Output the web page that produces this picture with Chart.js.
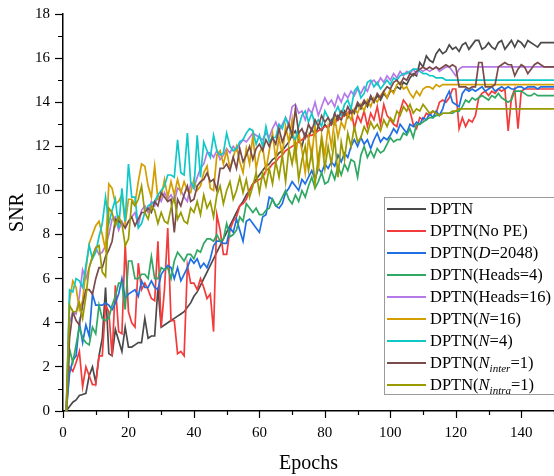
<!DOCTYPE html>
<html>
<head>
<meta charset="utf-8">
<script src="https://cdn.jsdelivr.net/npm/chart.js@4.4.1/dist/chart.umd.min.js"></script>
<style>
  html, body { margin: 0; padding: 0; background: #fff; }
  #wrap { position: relative; width: 554px; height: 476px; overflow: hidden; }
  #legend {
    position: absolute; left: 384px; top: 197px; width: 180px; height: 196px;
    border: 1px solid #9a9a9a; background: #fff;
    font-family: "Liberation Serif", "Times New Roman", serif; font-size: 16.5px; color: #000;
  }
  .item { position: absolute; left: 0; height: 22px; line-height: 22px; white-space: nowrap; }
  .swatch { position: absolute; left: 2px; top: 10px; width: 39px; height: 2px; }
  .lbl { position: absolute; left: 45px; top: 0; }
  .lbl sub { font-size: 11px; vertical-align: -4px; line-height: 0; }
</style>
</head>
<body>
<div id="wrap">
  <canvas id="myChart" width="554" height="476"></canvas>
  <div id="legend"></div>
</div>
<script>
// SNR per epoch (epochs 1..150)
var dptn = [
  0, 0.2, 0.4, 0.5, 0.7, 0.75, 0.8, 1.6, 2.0, 1.3,
  2.5, 3.3, 5.6, 2.6, 2.5, 3.7, 3.2, 2.7, 3.8, 2.9,
  2.9, 3.0, 3.1, 3.1, 4.2, 3.3, 3.4, 3.4, 5.6, 3.8,
  3.9, 4.0, 4.1, 4.2, 4.3, 4.4, 4.5, 4.7, 4.9, 5.2,
  5.4, 5.7, 6.0, 6.3, 6.6, 6.9, 7.2, 7.5, 7.8, 8.1,
  8.4, 8.7, 9.0, 9.3, 9.5, 9.8, 10.0, 10.3, 10.5, 10.7,
  10.9, 11.1, 11.2, 11.4, 11.5, 11.7, 11.8, 12.0, 12.2, 12.5,
  12.7, 12.3, 12.0, 12.6, 12.4, 12.8, 12.5, 12.9, 12.7, 13.0,
  12.8, 13.2, 13.0, 13.4, 13.2, 13.6, 13.3, 13.7, 13.5, 13.9,
  13.7, 14.0, 13.8, 14.2, 14.0, 14.3, 14.1, 14.4, 14.2, 14.5,
  14.5, 14.7, 14.6, 14.9, 14.8, 15.1, 15.3, 15.2, 15.8, 15.6,
  16.1, 15.9, 15.8, 16.2, 16.4, 16.2, 16.3, 16.6, 16.4, 16.5,
  16.3, 16.6, 16.7, 16.4, 16.6, 16.8, 16.8, 16.4, 16.5, 16.7,
  16.5, 16.4, 16.7, 16.8, 16.4, 16.6, 16.8, 16.5, 16.8, 16.7,
  16.5, 16.8, 16.7, 16.6, 16.5, 16.7, 16.7, 16.7, 16.7, 16.7
];
var noPE = [
  0, 2.0, 1.8, 2.2, 2.7, 1.1, 2.0, 1.6, 1.2, 1.2,
  2.5, 2.5, 4.8, 4.5, 2.5, 5.7, 3.6, 3.5, 7.6, 4.5,
  4.0, 3.8, 6.7, 5.5, 5.8, 5.5, 5.1, 5.0, 7.7, 3.8,
  5.5, 8.3, 4.1, 4.1, 2.6, 2.7, 2.5, 6.6, 5.8, 5.8,
  5.5, 6.0, 5.6, 5.1, 5.3, 3.6, 8.9, 8.2, 7.1, 7.1,
  8.2, 8.6, 8.8, 9.3, 9.4, 9.6, 10.0, 10.3, 10.4, 10.5,
  10.6, 10.9, 11.0, 11.2, 11.3, 11.5, 11.6, 11.8, 11.9, 12.0,
  12.1, 12.2, 12.3, 12.4, 12.5, 12.5, 12.6, 12.7, 12.8, 12.9,
  12.9, 13.0, 13.1, 13.2, 13.3, 13.4, 13.5, 13.7, 12.8, 13.4,
  13.1, 13.6, 12.9, 13.5, 13.2, 13.8, 13.0, 13.9, 13.4, 13.2,
  13.0, 12.9, 13.6, 14.1, 13.9, 13.6, 13.0, 12.8, 13.3, 13.2,
  13.5, 13.4, 13.6, 13.5, 14.0, 14.1, 14.0, 14.2, 14.6, 14.6,
  12.8, 13.3, 12.9, 13.2, 13.1, 13.4, 14.2, 14.4, 14.5, 14.3,
  14.5, 14.4, 14.6, 14.5, 14.6, 12.7, 14.2, 14.6, 12.8, 14.5,
  14.6, 14.6, 14.6, 14.6, 14.6, 14.6, 14.6, 14.6, 14.6, 14.6
];
var d2048 = [
  0, 1.7, 2.3, 2.5, 4.0, 3.1, 3.9, 3.4, 5.3, 4.8,
  4.8, 4.8, 4.9, 4.8, 4.6, 4.9, 5.3, 6.0, 5.1, 5.3,
  5.4, 5.5, 5.2, 5.9, 5.6, 5.6, 5.9, 5.6, 5.5, 6.2,
  6.4, 6.6, 6.5, 6.0, 6.5, 5.9, 6.2, 6.5, 6.9, 6.7,
  6.9, 6.5, 6.7, 6.5, 6.9, 7.5, 7.7, 7.7, 7.6, 7.6,
  8.3, 8.1, 8.7, 8.2, 7.7, 8.6, 8.7, 8.5, 8.3, 8.1,
  8.8, 8.9, 9.7, 9.6, 9.3, 9.2, 9.4, 9.9, 10.1, 10.4,
  10.2, 10.0, 10.5, 10.3, 10.6, 10.9, 10.5, 11.0, 10.8, 11.2,
  11.0, 11.3, 11.1, 11.6, 11.3, 11.7, 11.5, 12.0, 12.3, 12.0,
  12.4, 12.1, 12.3, 11.9, 12.3, 12.6, 12.2, 12.4, 12.3, 12.5,
  12.8, 12.6, 13.0, 12.8, 12.6, 13.0, 12.9, 13.1, 13.0, 13.3,
  13.2, 13.5, 13.3, 13.6, 13.4, 13.7, 14.2, 14.5, 14.0, 13.9,
  13.8, 14.4, 14.6, 14.5, 14.6, 14.5, 14.6, 14.7, 14.5, 14.6,
  14.7, 14.5, 14.6, 14.7, 14.6, 14.7, 14.6, 14.6, 14.7, 14.7,
  14.6, 14.7, 14.7, 14.7, 14.6, 14.7, 14.7, 14.7, 14.7, 14.7
];
var heads4 = [
  0, 2.8, 2.2, 3.0, 3.8, 3.3, 3.1, 3.0, 3.8, 3.5,
  4.8, 4.2, 4.1, 4.2, 4.8, 5.2, 5.8, 5.8, 4.6, 6.8,
  6.8, 6.0, 6.0, 6.2, 6.2, 6.0, 7.0, 6.0, 6.0, 6.5,
  6.4, 6.5, 6.0, 6.8, 7.2, 7.0, 6.8, 7.1, 7.1, 6.9,
  7.3, 7.2, 7.6, 7.8, 7.8, 7.7, 8.0, 7.7, 7.8, 8.5,
  7.9, 8.0, 8.2, 8.8, 8.6, 9.4, 9.2, 9.0, 9.2, 8.9,
  8.9, 9.1, 9.2, 9.6, 9.3, 9.4, 9.7, 10.0, 9.6, 9.4,
  9.8, 9.5, 10.0, 9.7, 10.2, 10.6, 10.1, 10.4, 10.8, 10.3,
  10.4, 10.9, 10.5, 11.1, 10.7, 11.2, 10.9, 11.4, 11.3, 10.6,
  11.6, 12.0, 11.5, 11.8, 11.5, 11.9, 11.7, 11.8, 12.1, 12.4,
  12.2, 12.3, 12.3, 12.6, 12.5, 12.8, 12.4, 13.0, 13.0, 13.1,
  13.2, 13.3, 13.3, 13.4, 13.4, 13.5, 13.5, 13.5, 13.5, 13.6,
  13.6, 13.8, 14.1, 14.0, 14.2, 14.1, 14.2, 14.3, 14.2, 14.1,
  14.3, 14.2, 14.4, 14.2, 14.1, 14.0, 14.1, 14.5, 14.5, 14.5,
  14.4, 14.3, 14.3, 14.4, 14.3, 14.3, 14.3, 14.3, 14.3, 14.3
];
var heads16 = [
  0, 4.0, 4.5, 4.4, 5.2, 6.4, 6.0, 6.5, 7.0, 7.4,
  7.1, 7.2, 7.5, 8.0, 8.7, 8.8, 8.2, 8.6, 8.3, 8.6,
  8.8, 9.0, 8.4, 9.1, 9.3, 9.0, 9.5, 9.3, 9.8, 9.5,
  9.9, 9.6, 9.8, 9.5, 10.1, 10.0, 9.7, 9.5, 10.3, 10.1,
  10.6, 11.0, 11.2, 11.7, 11.7, 11.5, 11.8, 11.4, 11.6, 11.9,
  11.7, 12.0, 11.8, 12.1, 12.3, 12.2, 12.4, 12.6, 12.5, 12.4,
  12.3, 12.6, 12.4, 12.8, 13.1, 12.7, 13.0, 13.3, 13.0, 13.8,
  13.9, 13.5, 13.6, 13.2, 13.7, 13.5, 14.0, 13.4, 13.8, 14.2,
  13.9, 14.1, 13.8, 14.3, 14.0, 14.4, 14.2, 14.5, 14.3, 14.6,
  14.4, 14.7, 14.5, 14.9, 15.0, 14.8, 15.1, 14.9, 15.2, 15.0,
  15.3, 15.1, 15.4, 15.2, 15.4, 15.3, 15.5, 15.3, 15.5, 15.4,
  15.5, 15.4, 15.5, 15.6, 15.4, 15.5, 15.6, 15.6, 15.4, 15.2,
  15.5, 15.6, 15.6, 15.6, 15.6, 15.6, 15.6, 15.6, 15.6, 15.6,
  15.6, 15.6, 15.6, 15.6, 15.6, 15.6, 15.6, 15.6, 15.6, 15.6,
  15.6, 15.6, 15.6, 15.6, 15.6, 15.6, 15.6, 15.6, 15.6, 15.6
];
var n16 = [
  0, 5.0, 5.9, 5.6, 4.6, 5.0, 6.4, 7.6, 8.0, 8.4,
  8.6, 8.0, 7.3, 10.3, 10.1, 9.4, 9.5, 9.8, 8.5, 9.6,
  9.6, 9.4, 10.4, 11.2, 11.1, 10.2, 9.7, 11.1, 9.6, 9.7,
  10.5, 9.7, 10.4, 9.8, 10.5, 9.9, 10.4, 10.0, 9.9, 10.5,
  10.0, 10.2, 10.8, 11.1, 10.1, 10.0, 11.6, 11.8, 11.2, 11.8,
  11.0, 11.5, 12.0, 11.3, 10.8, 11.9, 11.2, 12.5, 11.0, 11.7,
  12.0, 10.9, 11.8, 12.6, 11.4, 12.4, 11.6, 12.9, 12.2, 13.2,
  11.5, 12.6, 11.8, 10.8, 12.4, 11.5, 13.0, 10.9, 12.5, 11.6,
  12.9, 12.0, 13.3, 12.4, 13.1, 12.8, 13.5, 13.2, 13.7, 13.5,
  13.9, 13.6, 14.1, 13.8, 14.2, 14.0, 14.3, 14.5, 14.2, 14.6,
  14.4, 14.8, 14.9, 14.6, 14.7, 14.4, 14.2, 14.5, 14.3, 14.6,
  14.7, 14.7, 14.6, 14.8, 14.7, 14.8, 14.8, 14.8, 14.8, 14.8,
  14.8, 14.8, 14.8, 14.8, 14.8, 14.8, 14.8, 14.8, 14.8, 14.8,
  14.8, 14.8, 14.8, 14.8, 14.8, 14.8, 14.8, 14.8, 14.8, 14.8,
  14.8, 14.8, 14.8, 14.8, 14.8, 14.8, 14.8, 14.8, 14.8, 14.8
];
var n4 = [
  0, 5.5, 5.4, 6.0, 5.9, 5.6, 6.6, 7.5, 6.9, 7.2,
  7.9, 8.5, 9.7, 8.5, 9.1, 9.6, 8.3, 10.1, 8.6, 11.2,
  9.7, 9.7, 8.3, 8.5, 9.0, 9.3, 9.4, 9.5, 9.8, 10.0,
  10.2, 10.7, 10.7, 10.6, 12.3, 10.8, 10.7, 12.6, 10.4, 10.1,
  12.5, 10.6, 12.2, 11.8, 11.5, 12.5, 11.8, 11.6, 11.7, 12.6,
  12.0, 11.8, 11.9, 12.2, 12.3, 12.6, 12.8, 12.7, 12.1, 12.5,
  12.0, 12.9, 12.2, 12.4, 12.4, 13.0, 12.8, 13.3, 12.9, 12.5,
  12.3, 12.9, 13.4, 13.6, 13.1, 13.5, 13.0, 13.2, 12.9, 13.6,
  13.3, 13.0, 13.5, 13.8, 13.4, 13.9, 14.1, 13.7, 14.5, 14.7,
  14.2, 14.4, 14.9, 15.0, 14.7, 14.9, 14.6, 14.8, 15.0, 14.8,
  15.1, 15.0, 15.2, 15.3, 15.3, 15.4, 15.5, 15.5, 15.4, 15.3,
  15.3, 15.2, 15.2, 15.1, 15.1, 15.1, 15.0, 15.0, 15.0, 15.0,
  15.0, 15.0, 15.0, 15.0, 15.0, 15.0, 15.0, 15.0, 15.0, 15.0,
  15.0, 15.0, 15.0, 15.0, 15.0, 15.0, 15.0, 15.0, 15.0, 15.0,
  15.0, 15.0, 15.0, 15.0, 15.0, 15.0, 15.0, 15.0, 15.0, 15.0
];
var nInter = [
  0, 3.3, 4.5, 4.1, 3.9, 4.8, 5.5, 5.5, 5.3, 6.0,
  6.5, 6.5, 7.0, 7.3, 7.7, 8.7, 8.6, 8.5, 8.3, 8.6,
  8.8, 8.4, 8.7, 9.0, 9.0, 9.2, 9.0, 9.5, 9.3, 9.9,
  9.7, 9.5, 9.6, 8.1, 9.6, 9.3, 9.8, 10.2, 9.5, 9.6,
  10.2, 10.4, 10.5, 10.8, 10.4, 10.5, 10.0, 11.0, 11.0, 11.2,
  10.9, 11.5, 11.0, 11.9, 11.3, 11.6, 12.0, 11.4, 11.9, 12.1,
  11.8, 12.3, 12.0, 12.4, 12.1, 12.8, 12.2, 12.6, 13.0, 12.5,
  13.7, 12.6, 12.8, 12.4, 13.0, 12.7, 13.2, 12.9, 13.4, 13.1,
  13.3, 13.0, 13.5, 13.2, 13.6, 13.4, 13.8, 13.5, 13.6, 14.0,
  13.8, 14.1, 13.9, 14.3, 14.0, 14.4, 14.2, 14.5, 14.7, 14.6,
  14.9, 15.0, 14.8, 15.1, 15.0, 15.3, 15.2, 15.4, 15.5, 15.6,
  15.5, 15.6, 15.5, 15.6, 15.5, 15.6, 15.7, 15.6, 15.7, 15.6,
  14.7, 14.7, 14.7, 14.6, 14.7, 14.7, 15.8, 15.8, 14.7, 14.7,
  14.7, 14.8, 15.6, 15.7, 15.8, 15.7, 15.7, 15.2, 15.5, 15.7,
  15.6, 15.3, 15.5, 15.7, 15.8, 15.7, 15.6, 15.6, 15.6, 15.6
];
var nIntra = [
  0, 4.8, 4.5, 4.5, 4.9, 4.2, 5.2, 6.5, 7.0, 7.4,
  7.5, 6.3, 6.1, 9.2, 9.0, 8.4, 8.8, 8.5, 7.5, 7.8,
  9.5, 9.3, 9.6, 10.2, 9.0, 8.7, 9.3, 9.1, 8.5, 9.0,
  8.6, 8.5, 9.2, 9.7, 8.7, 9.0, 8.6, 8.5, 9.2, 9.0,
  9.5, 8.9, 9.8, 9.2, 9.5, 8.8, 9.8, 10.2, 9.4, 10.0,
  10.4, 9.6, 10.0, 10.6, 9.9, 10.5, 9.7, 10.2, 10.8, 9.9,
  10.8, 10.2, 11.0, 10.3, 11.3, 10.6, 11.6, 10.4, 11.9, 11.2,
  12.1, 10.5, 11.4, 12.0, 10.9, 11.8, 10.3, 11.5, 12.3, 11.0,
  12.0, 11.2, 12.4, 10.6, 12.2, 11.4, 12.6, 12.0, 12.9, 12.2,
  12.4, 12.9, 12.6, 13.1, 12.8, 13.0, 12.7, 13.2, 12.9, 13.3,
  13.1, 13.6, 13.4, 13.8, 13.6, 13.9, 13.5, 13.7, 13.6, 13.9,
  13.7, 13.5, 13.6, 13.5, 13.4, 13.5, 13.5, 13.5, 13.6, 13.6,
  13.7, 13.7, 13.7, 13.7, 13.7, 13.7, 13.7, 13.7, 13.7, 13.7,
  13.7, 13.7, 13.7, 13.7, 13.7, 13.7, 13.7, 13.7, 13.7, 13.7,
  13.7, 13.7, 13.7, 13.7, 13.7, 13.7, 13.7, 13.7, 13.7, 13.7
];

var seriesNames = [
  "DPTN",
  "DPTN(No PE)",
  "DPTN(<i>D</i>=2048)",
  "DPTN(Heads=4)",
  "DPTN(Heads=16)",
  "DPTN(<i>N</i>=16)",
  "DPTN(<i>N</i>=4)",
  "DPTN(<i>N</i><sub><i>inter</i></sub>=1)",
  "DPTN(<i>N</i><sub><i>intra</i></sub>=1)"
];
var seriesData = [dptn, noPE, d2048, heads4, heads16, n16, n4, nInter, nIntra];
var seriesColors = ["#4a4a4a", "#f23c3c", "#1f6fe3", "#30a864", "#b57ae8", "#d29e00", "#10c8c8", "#7a4b4b", "#999900"];

var serif = "'Liberation Serif', 'Times New Roman', serif";

var datasets = seriesData.map(function (vals, i) {
  return {
    label: seriesNames[i].replace(/<[^>]+>/g, ""),
    data: vals.map(function (v, k) { return { x: k + 1, y: v }; }),
    borderColor: seriesColors[i],
    backgroundColor: seriesColors[i],
    borderWidth: 1.7,
    pointRadius: 0,
    tension: 0,
    order: seriesData.length - 1 - i
  };
});

// x ticks (long every 20, short every 10) and short y minor ticks
var axisTicks = {
  id: "axisTicks",
  afterDraw: function (chart) {
    var ctx = chart.ctx;
    var xs = chart.scales.x, ys = chart.scales.y;
    ctx.save();
    ctx.strokeStyle = "#000";
    ctx.lineWidth = 1.2;
    ctx.beginPath();
    for (var v = 0; v <= 150; v += 10) {
      var px = Math.round(xs.getPixelForValue(v)) + 0.5;
      ctx.moveTo(px, ys.bottom);
      ctx.lineTo(px, ys.bottom + (v % 20 === 0 ? 7 : 4));
    }
    for (var w = 1; w < 18; w += 2) {
      var py = Math.round(ys.getPixelForValue(w)) + 0.5;
      ctx.moveTo(xs.left - 5, py);
      ctx.lineTo(xs.left, py);
    }
    ctx.stroke();
    ctx.restore();
  }
};

const config = {
  type: "line",
  data: { datasets: datasets },
  options: {
    responsive: false,
    animation: false,
    layout: { padding: { left: 2, top: 9, right: 0, bottom: 0 } },
    plugins: {
      legend: { display: false },
      tooltip: { enabled: false }
    },
    scales: {
      x: {
        type: "linear",
        min: 0,
        max: 150,
        ticks: {
          stepSize: 10,
          autoSkip: false,
          maxRotation: 0,
          color: "#000",
          font: { family: serif, size: 15 },
          padding: 0,
          callback: function (v) { return v % 20 === 0 ? v : ""; }
        },
        grid: {
          drawOnChartArea: false,
          tickLength: 13,
          tickColor: "rgba(0,0,0,0)"
        },
        border: { color: "#000", width: 1.5 },
        title: { display: true, text: "Epochs", color: "#000", font: { family: serif, size: 20 }, padding: { top: 10, bottom: 0 } }
      },
      y: {
        min: 0,
        max: 18,
        ticks: {
          stepSize: 1,
          autoSkip: false,
          color: "#000",
          font: { family: serif, size: 15 },
          padding: 5,
          callback: function (v) { return v % 2 === 0 ? v : ""; }
        },
        grid: {
          drawOnChartArea: false,
          tickLength: 8,
          tickWidth: 1.2,
          tickColor: function (c) { return c.tick && c.tick.value % 2 === 0 ? "#000" : "rgba(0,0,0,0)"; }
        },
        border: { color: "#000", width: 1.5 },
        title: { display: true, text: "SNR", color: "#000", font: { family: serif, size: 20 }, padding: { bottom: 0 } }
      }
    }
  },
  plugins: [axisTicks]
};

const myChart = new Chart(document.getElementById("myChart"), config);

// legend box in the lower right, html so the italic / subscript labels keep their form
document.getElementById("legend").innerHTML = seriesNames.map(function (name, i) {
  return '<div class="item" style="top:' + (i * 22) + 'px">' +
    '<div class="swatch" style="background:' + seriesColors[i] + '"></div>' +
    '<div class="lbl">' + name + '</div></div>';
}).join("");
</script>
</body>
</html>
